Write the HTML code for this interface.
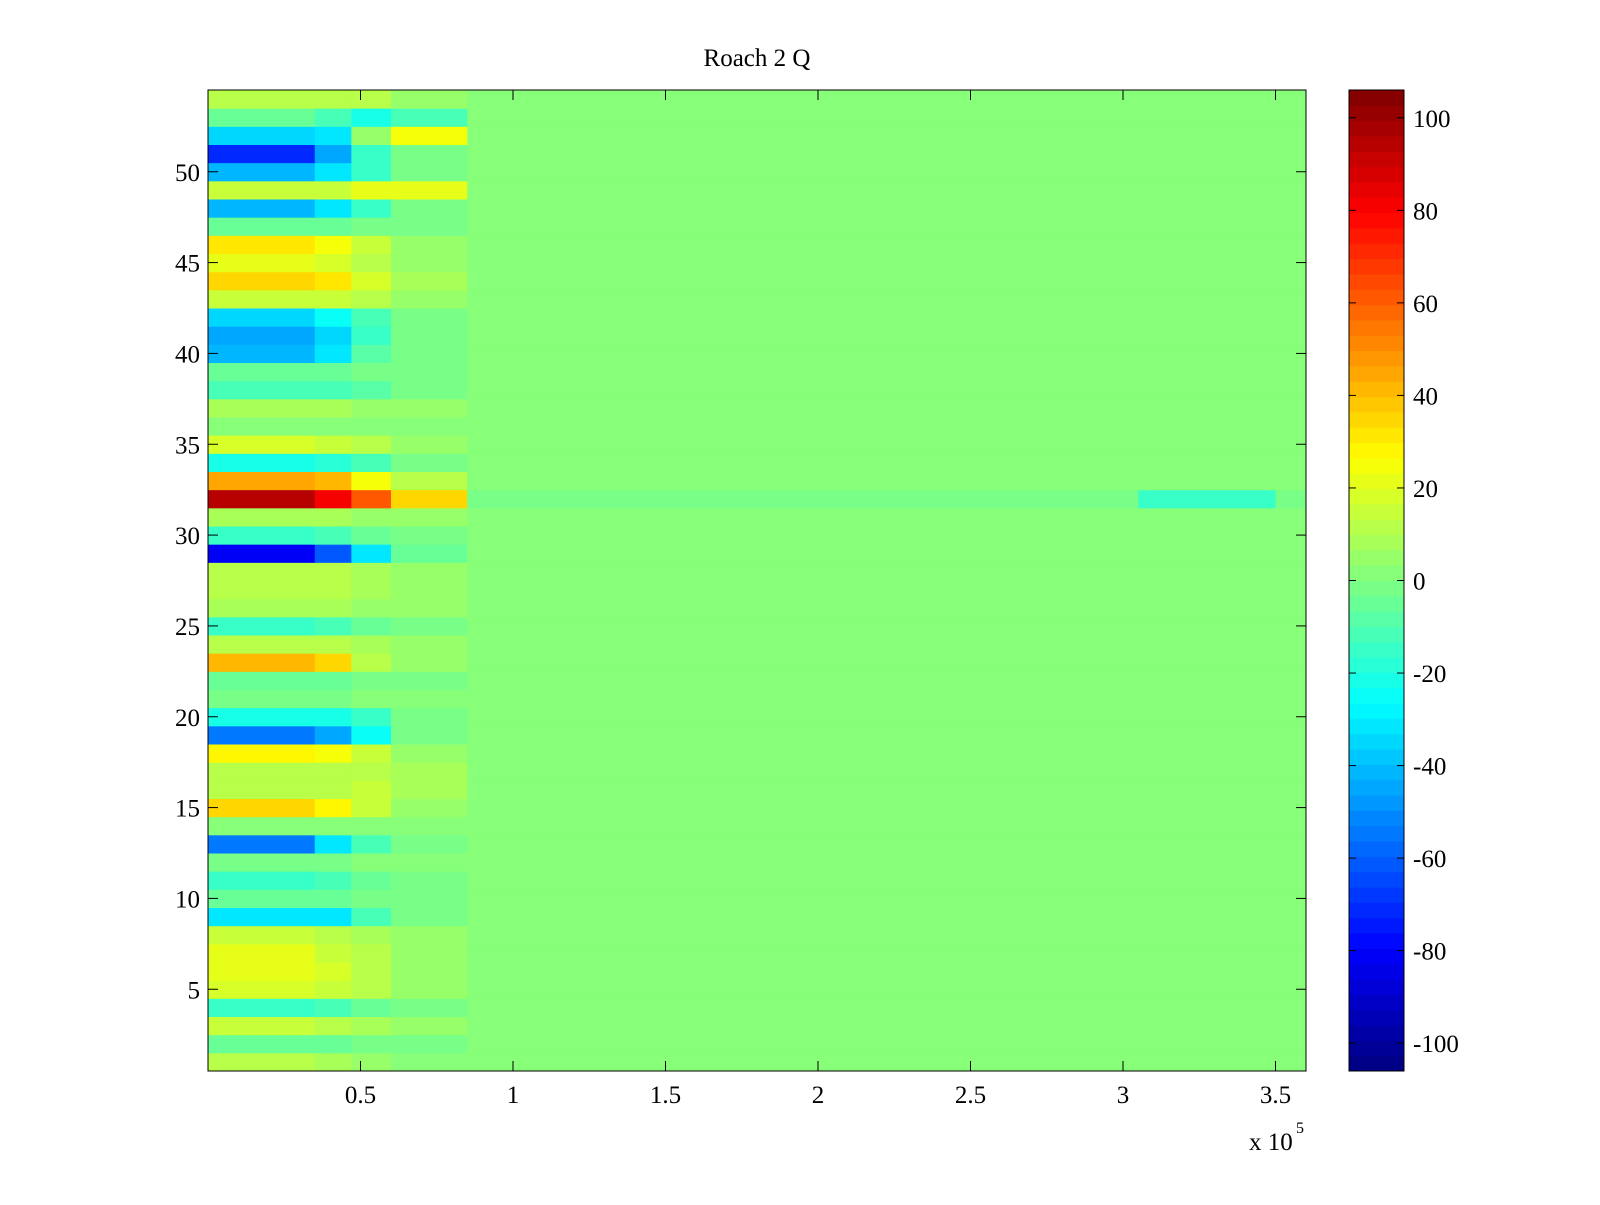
<!DOCTYPE html>
<html><head><meta charset="utf-8"><style>
body{margin:0;background:#fff;width:1600px;height:1200px;overflow:hidden}
svg text{font-family:"Liberation Serif",serif;font-size:25px;fill:#000}
</style></head><body>
<svg id="chart" width="1600" height="1200">
<text x="757" y="66" text-anchor="middle">Roach 2 Q</text>
<g id="cells"></g>
<g id="cbar"></g>
<g id="axes"></g>
</svg>
<script>
// segment edges along x (samples)
const xEdges = [0, 35000, 47000, 60000, 85000, 305000, 350000, 360000];
const yTicks = [5,10,15,20,25,30,35,40,45,50];
const xTicks = [0.5,1,1.5,2,2.5,3,3.5];
const cbTicks = [100,80,60,40,20,0,-20,-40,-60,-80,-100];
// per-row segment values, rows 1..54
const rowVals = [
 [10,8,5,3,2,2,2],[-5,-5,-3,-2,1,1,1],[15,12,8,5,2,2,2],[-15,-12,-5,-2,1,1,1],
 [18,15,10,5,2,2,2],[22,18,10,5,2,2,2],[20,15,10,5,2,2,2],[15,12,8,4,2,2,2],
 [-30,-30,-10,-2,1,1,1],[-5,-5,-3,0,1,1,1],[-15,-12,-5,-2,1,1,1],[0,0,2,2,2,2,2],
 [-55,-30,-10,0,1,1,1],[2,2,2,2,2,2,2],[35,28,15,6,2,2,2],[12,12,15,8,2,2,2],
 [10,10,10,8,2,2,2],[28,25,15,5,2,2,2],[-55,-45,-25,-3,1,1,1],[-20,-20,-15,-3,1,1,1],
 [0,0,2,2,2,2,2],[-5,-5,-2,0,1,1,1],[40,35,12,5,2,2,2],[12,10,8,4,2,2,2],
 [-15,-12,-5,0,1,1,1],[8,8,6,4,2,2,2],[12,10,8,4,2,2,2],[12,10,8,4,2,2,2],
 [-80,-60,-30,-5,1,1,1],[-15,-12,-5,0,1,1,1],[8,8,6,4,2,2,2],[95,80,60,35,-3,-15,-3],
 [45,40,25,10,2,2,2],[-20,-18,-10,-3,1,1,1],[18,15,10,5,2,2,2],[3,3,2,2,2,2,2],
 [8,8,6,4,2,2,2],[-10,-10,-8,-3,1,1,1],[-5,-5,-3,0,1,1,1],[-40,-30,-8,0,1,1,1],
 [-45,-35,-15,-3,1,1,1],[-35,-25,-12,-2,1,1,1],[15,15,10,6,2,2,2],[35,30,18,8,2,2,2],
 [20,18,12,6,2,2,2],[30,25,15,6,2,2,2],[-5,-5,-3,0,1,1,1],[-40,-30,-15,-3,1,1,1],
 [15,15,20,20,2,2,2],[-40,-30,-15,-3,1,1,1],[-70,-45,-15,-3,1,1,1],[-35,-30,5,25,2,2,2],
 [-5,-10,-20,-10,1,1,1],[10,10,10,6,2,2,2]
];
const X0=208,X1=1306,Y0=90,Y1=1071,XMAX=360000,CMIN=-106,CMAX=106;
const xs=v=>X0+(v/XMAX)*(X1-X0);
const ys=v=>Y1-((v-0.5)/54)*(Y1-Y0);
function jet(v){let t=(v-CMIN)/(CMAX-CMIN);t=Math.max(0,Math.min(1,t));t=(Math.floor(t*63.999)+0.5)/64;
 const f=x=>Math.round(255*Math.max(0,Math.min(1,1.5-Math.abs(4*t-x))));
 return `rgb(${f(3)},${f(2)},${f(1)})`;}
const NS="http://www.w3.org/2000/svg";
const cells=document.getElementById('cells');
rowVals.forEach((vals,i)=>{const r=i+1;vals.forEach((v,j)=>{
 const el=document.createElementNS(NS,'rect');
 el.setAttribute('x',xs(xEdges[j]));el.setAttribute('width',xs(xEdges[j+1])-xs(xEdges[j])+0.5);
 el.setAttribute('y',ys(r+0.5));el.setAttribute('height',ys(r-0.5)-ys(r+0.5)+0.5);
 el.setAttribute('fill',jet(v));
 
 
 cells.appendChild(el);});});
const axes=document.getElementById('axes');
function add(parent,tag,attrs,txt){const e=document.createElementNS(NS,tag);for(const k in attrs)e.setAttribute(k,attrs[k]);if(txt!==undefined)e.textContent=txt;parent.appendChild(e);return e;}
add(axes,'rect',{x:X0,y:Y0,width:X1-X0,height:Y1-Y0,fill:'none',stroke:'#000','stroke-width':1});
yTicks.forEach(t=>{const y=ys(t);
 add(axes,'line',{x1:X0,x2:X0+10,y1:y,y2:y,stroke:'#000'});add(axes,'line',{x1:X1-10,x2:X1,y1:y,y2:y,stroke:'#000'});
 const tx=add(axes,'text',{x:X0-8,y:y+9,'text-anchor':'end'},t);
 
 });
xTicks.forEach(t=>{const x=xs(t*100000);
 add(axes,'line',{x1:x,x2:x,y1:Y1,y2:Y1-10,stroke:'#000'});add(axes,'line',{x1:x,x2:x,y1:Y0,y2:Y0+10,stroke:'#000'});
 const tx=add(axes,'text',{x:x,y:Y1+32,'text-anchor':'middle'},t);
 
 });
const ex=add(axes,'text',{x:1249,y:1150},'x 10');


add(axes,'text',{x:1296,y:1133,style:'font-size:16px'},'5');
const cb=document.getElementById('cbar');const CX0=1349,CX1=1404;
const cy=v=>Y1-((v-CMIN)/(CMAX-CMIN))*(Y1-Y0);
for(let k=0;k<64;k++){const v0=CMIN+k*(CMAX-CMIN)/64,v1=CMIN+(k+1)*(CMAX-CMIN)/64;
 add(cb,'rect',{x:CX0,width:CX1-CX0,y:cy(v1),height:cy(v0)-cy(v1)+0.5,fill:jet((v0+v1)/2)});}
add(cb,'rect',{x:CX0,y:Y0,width:CX1-CX0,height:Y1-Y0,fill:'none',stroke:'#000'});
cbTicks.forEach(t=>{const y=cy(t);
 add(cb,'line',{x1:CX0,x2:CX0+7,y1:y,y2:y,stroke:'#000'});add(cb,'line',{x1:CX1-7,x2:CX1,y1:y,y2:y,stroke:'#000'});
 const tx=add(cb,'text',{x:CX1+9,y:y+9},t);
 
 });
</script>
</body></html>
